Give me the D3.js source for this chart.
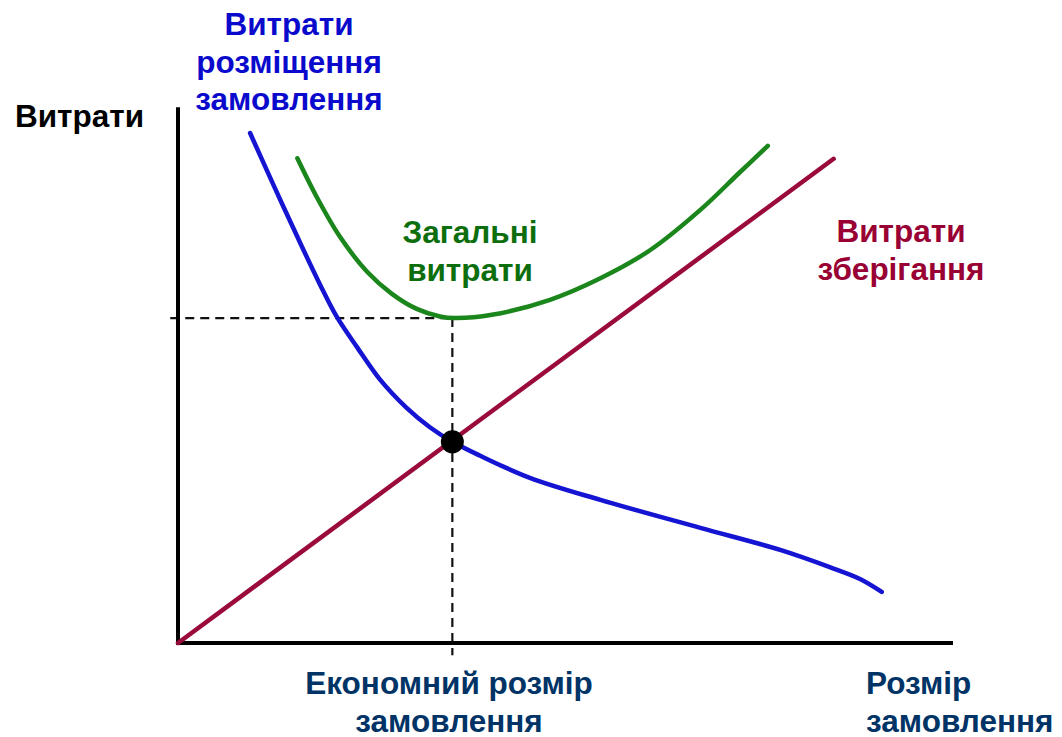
<!DOCTYPE html>
<html>
<head>
<meta charset="utf-8">
<script src="https://cdnjs.cloudflare.com/ajax/libs/d3/7.8.5/d3.min.js"></script>
<style>
  body { margin: 0; background: #fff; }
  text { font-family: "Liberation Sans", Arial, sans-serif; font-weight: bold; }
</style>
</head>
<body>
<div id="chart"></div>
<script>
var WIDTH = 1062;
var HEIGHT = 737;

// order size (x) and cost (y), both on a 0-100 scale
var orderingX = [9.3, 12.3, 15.4, 18.3, 20.5, 23.1, 26.1, 29.5, 32.5, 35.4, 39.0, 45.4, 54.5, 67.4, 77.7, 84.1, 88.0, 90.8];
var orderingY = [94.8, 85.2, 75.5, 66.7, 60.6, 55.0, 48.9, 43.7, 40.1, 37.4, 34.8, 30.7, 26.6, 21.4, 17.3, 14.1, 11.9, 9.5];

var totalX = [15.4, 17.9, 20.9, 24.4, 27.6, 30.8, 33.8, 35.7, 40.5, 48.0, 54.5, 60.9, 67.4, 72.5, 76.1];
var totalY = [90.1, 82.9, 75.5, 69.0, 64.9, 62.1, 60.7, 60.4, 61.0, 63.8, 67.8, 73.0, 80.5, 87.5, 92.4];

var holdingX = [0, 84.6];
var holdingY = [0, 90.0];

var eoqX = 35.4;
var eoqCost = 37.4;
var minTotal = 60.4;

var svg = d3.select("#chart").append("svg")
    .attr("width", WIDTH)
    .attr("height", HEIGHT);

var x = d3.scaleLinear().domain([0, 100]).range([178, 953]);
var y = d3.scaleLinear().domain([0, 100]).range([643, 105]);

function zip(xs, ys) {
    return xs.map(function(v, i) { return [v, ys[i]]; });
}

var line = d3.line()
    .x(function(d) { return x(d[0]); })
    .y(function(d) { return y(d[1]); })
    .curve(d3.curveCatmullRom.alpha(0.5));

// dashed guides
svg.append("line")
    .attr("x1", x(-1)).attr("x2", x(eoqX))
    .attr("y1", y(minTotal)).attr("y2", y(minTotal))
    .attr("stroke", "#111").attr("stroke-width", 2.2)
    .attr("stroke-dasharray", "9,6");

svg.append("line")
    .attr("x1", x(eoqX)).attr("x2", x(eoqX))
    .attr("y1", y(minTotal)).attr("y2", y(-2.3))
    .attr("stroke", "#111").attr("stroke-width", 2.2)
    .attr("stroke-dasharray", "9,6");

// axes
svg.append("line")
    .attr("x1", x(0)).attr("x2", x(0))
    .attr("y1", y(99.6)).attr("y2", y(0) + 2)
    .attr("stroke", "#000").attr("stroke-width", 4);

svg.append("line")
    .attr("x1", x(0) - 2).attr("x2", x(100))
    .attr("y1", y(0)).attr("y2", y(0))
    .attr("stroke", "#000").attr("stroke-width", 4);

// curves
svg.append("path")
    .datum(zip(holdingX, holdingY))
    .attr("d", line)
    .attr("fill", "none")
    .attr("stroke", "#9b0a3c")
    .attr("stroke-width", 4.5)
    .attr("stroke-linecap", "round");

svg.append("path")
    .datum(zip(orderingX, orderingY))
    .attr("d", line)
    .attr("fill", "none")
    .attr("stroke", "#1414d2")
    .attr("stroke-width", 4.5)
    .attr("stroke-linecap", "round");

svg.append("path")
    .datum(zip(totalX, totalY))
    .attr("d", line)
    .attr("fill", "none")
    .attr("stroke", "#1b861b")
    .attr("stroke-width", 4.5)
    .attr("stroke-linecap", "round");

svg.append("circle")
    .attr("cx", x(eoqX))
    .attr("cy", y(eoqCost))
    .attr("r", 11.5)
    .attr("fill", "#000");

// labels
function label(lines, tx, ty, color, anchor) {
    var t = svg.append("text")
        .attr("fill", color)
        .attr("font-size", 31.5)
        .attr("text-anchor", anchor || "middle");
    lines.forEach(function(s, i) {
        t.append("tspan").attr("x", tx).attr("y", ty + i * 37.5).text(s);
    });
}

label(["Витрати"], 15, 127, "#000", "start");
label(["Витрати", "розміщення", "замовлення"], 289, 35, "#0a0acc");
label(["Загальні", "витрати"], 470, 243, "#0c6e0c");
label(["Витрати", "зберігання"], 901, 242, "#990033");
label(["Економний розмір", "замовлення"], 449, 694, "#003366");
label(["Розмір", "замовлення"], 866, 694, "#003366", "start");
</script>
</body>
</html>
